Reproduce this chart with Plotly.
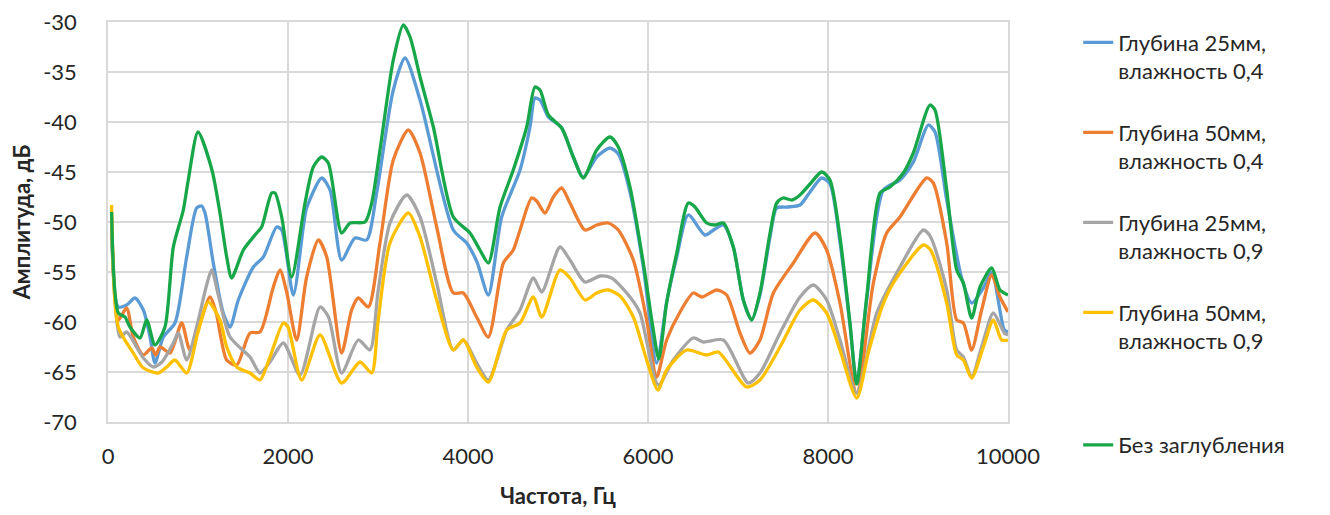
import plotly.graph_objects as go

# ---------------- data ----------------
names = [
    "Глубина 25мм,<br>влажность 0,4",
    "Глубина 50мм,<br>влажность 0,4",
    "Глубина 25мм,<br>влажность 0,9",
    "Глубина 50мм,<br>влажность 0,9",
    "Без заглубления",
]
colors = ["#5B9BD5", "#ED7D31", "#A5A5A5", "#FFC000", "#18A748"]

blue_f = [40, 115, 207, 300, 393, 467, 522, 615, 744, 874, 985, 1040, 1078, 1170, 1281, 1356, 1448,
          1615, 1726, 1874, 1930, 2059, 2170, 2207, 2374, 2467, 2596, 2744, 2874, 2985, 3170, 3300,
          3467, 3837, 3985, 4100, 4226, 4374, 4578, 4689, 4744, 4800, 4893, 5041, 5170, 5281, 5430,
          5578, 5670, 5800, 5948, 6096, 6207, 6319, 6448, 6633, 6744, 6837, 6948, 7059, 7152, 7244,
          7356, 7430, 7550, 7689, 7800, 7930, 8022, 8133, 8244, 8319, 8430, 8615, 8800, 8948, 9115,
          9189, 9319, 9485, 9596, 9726, 9820, 9959, 10000]
blue_v = [-50.8, -58.5, -58.3, -57.6, -58.8, -61.5, -64.1, -61.5, -60.1, -53.5, -48.6, -48.4, -49.1,
          -54.1, -59.1, -60.5, -57.8, -54.5, -53.5, -50.5, -50.8, -57.3, -50.5, -48.6, -45.6, -46.8,
          -53.8, -51.6, -51.8, -47.1, -36.8, -33.6, -37.8, -50.8, -52.1, -54.0, -57.3, -49.5, -44.8,
          -40.5, -37.6, -37.8, -39.5, -40.6, -43.5, -45.5, -43.5, -42.6, -43.2, -47.0, -54.5, -64.1,
          -58.0, -53.5, -49.3, -51.3, -50.7, -50.3, -52.5, -57.8, -59.8, -57.3, -51.5, -48.6, -48.5,
          -48.3, -47.0, -45.6, -46.2, -52.0, -60.3, -66.1, -57.8, -46.8, -45.8, -44.0, -40.3, -41.0,
          -47.8, -55.6, -58.1, -56.6, -55.0, -60.8, -61.0]

orange_f = [40, 115, 207, 281, 393, 485, 530, 578, 689, 819, 911, 1133, 1200, 1319, 1430, 1578, 1689,
            1837, 1911, 1985, 2096, 2207, 2337, 2430, 2596, 2707, 2781, 2893, 3022, 3170, 3337, 3467,
            3652, 3837, 3948, 4096, 4226, 4393, 4503, 4578, 4707, 4763, 4856, 4948, 5041, 5133, 5300,
            5430, 5559, 5670, 5837, 5985, 6096, 6207, 6356, 6503, 6596, 6763, 6874, 7022, 7133, 7244,
            7393, 7615, 7856, 7985, 8133, 8319, 8504, 8652, 8800, 9096, 9170, 9319, 9430, 9504, 9596,
            9707, 9819, 9911, 10000]
orange_v = [-49.5, -59.8, -58.6, -61.5, -63.3, -62.6, -63.3, -62.5, -63.1, -60.1, -62.8, -57.5, -59.0,
            -63.8, -64.3, -61.1, -61.0, -56.5, -54.8, -57.0, -61.8, -55.5, -51.8, -53.5, -63.1, -58.8,
            -57.6, -58.5, -52.1, -43.8, -40.8, -43.1, -50.5, -57.1, -57.1, -59.5, -61.5, -54.1, -52.8,
            -50.8, -47.6, -47.9, -49.1, -47.5, -46.6, -48.1, -50.8, -50.3, -50.1, -50.8, -53.8, -59.8,
            -65.5, -61.8, -59.0, -57.1, -57.5, -56.8, -57.3, -61.1, -63.1, -61.8, -57.1, -54.1, -51.1,
            -52.8, -58.1, -67.1, -56.1, -51.1, -49.5, -45.6, -46.1, -52.1, -59.8, -60.1, -62.8, -58.8,
            -55.3, -57.5, -59.0]

gray_f = [40, 133, 207, 318, 393, 504, 600, 726, 781, 874, 985, 1096, 1152, 1226, 1356, 1578, 1689,
          1800, 1948, 2133, 2356, 2450, 2596, 2781, 2911, 3000, 3133, 3319, 3467, 3652, 3837, 3948,
          4096, 4226, 4430, 4578, 4726, 4819, 5022, 5133, 5300, 5467, 5596, 5800, 5911, 6115, 6281,
          6503, 6615, 6837, 7115, 7244, 7467, 7689, 7837, 7985, 8133, 8319, 8541, 8800, 9059, 9140,
          9319, 9430, 9504, 9596, 9707, 9837, 9959, 10000]
gray_v = [-51.0, -61.5, -61.0, -62.5, -63.6, -64.5, -64.0, -62.1, -61.1, -63.8, -60.5, -56.3, -54.8,
          -57.3, -61.5, -63.5, -65.1, -64.0, -62.1, -65.3, -58.5, -59.5, -65.1, -61.8, -62.8, -57.0,
          -50.1, -47.3, -49.5, -56.1, -62.8, -61.8, -64.1, -65.8, -60.8, -58.8, -55.6, -57.0, -52.5,
          -53.8, -56.0, -55.4, -55.6, -57.5, -59.1, -66.3, -63.8, -61.6, -62.0, -61.8, -66.1, -65.1,
          -61.1, -57.5, -56.3, -57.8, -61.8, -67.1, -59.1, -54.5, -50.8, -51.5, -56.8, -62.8, -63.5,
          -65.5, -62.5, -59.1, -61.1, -61.3]

yellow_f = [40, 115, 281, 393, 559, 652, 744, 874, 1000, 1115, 1244, 1319, 1430, 1578, 1689, 1800,
            1948, 2000, 2152, 2356, 2596, 2800, 2930, 3000, 3133, 3337, 3467, 3652, 3837, 3948, 4096,
            4226, 4430, 4578, 4726, 4819, 5022, 5133, 5300, 5430, 5559, 5689, 5837, 5985, 6110, 6207,
            6430, 6652, 6781, 7096, 7244, 7467, 7689, 7837, 7985, 8133, 8319, 8450, 8600, 8726, 9059,
            9140, 9319, 9430, 9504, 9596, 9726, 9837, 9930, 10000]
yellow_v = [-48.3, -60.5, -63.1, -64.6, -65.1, -64.5, -63.8, -65.1, -61.0, -58.0, -59.8, -62.5, -64.5,
            -65.1, -65.8, -63.5, -60.1, -60.5, -65.8, -61.3, -66.1, -64.0, -65.1, -60.0, -52.1, -49.1,
            -51.5, -57.8, -62.8, -61.8, -64.5, -66.0, -60.8, -60.1, -57.5, -59.5, -54.8, -55.6, -57.8,
            -57.1, -56.8, -57.4, -59.5, -63.8, -66.8, -64.8, -62.8, -63.3, -63.0, -66.5, -65.8, -62.5,
            -58.8, -57.8, -59.1, -62.8, -67.6, -63.0, -58.5, -56.1, -52.3, -52.8, -58.1, -63.3, -63.8,
            -65.6, -62.5, -59.8, -61.8, -61.8]

green_f = [40, 115, 189, 244, 356, 430, 522, 633, 726, 837, 892, 1000, 1155, 1244, 1319, 1374, 1504,
           1652, 1707, 1819, 1856, 1930, 2041, 2189, 2281, 2374, 2448, 2596, 2689, 2856, 2930, 3022,
           3170, 3281, 3356, 3467, 3615, 3837, 4022, 4133, 4226, 4356, 4503, 4652, 4744, 4800, 4893,
           5041, 5170, 5281, 5430, 5578, 5670, 5800, 5948, 6059, 6120, 6207, 6319, 6448, 6522, 6652,
           6744, 6837, 6948, 7059, 7152, 7244, 7356, 7430, 7500, 7600, 7689, 7800, 7930, 8022, 8133,
           8244, 8319, 8430, 8578, 8689, 8837, 8948, 9133, 9189, 9319, 9430, 9504, 9596, 9689, 9819,
           9911, 10000]
green_v = [-49.0, -59.1, -59.5, -60.5, -61.6, -59.8, -62.3, -60.5, -52.5, -48.8, -45.8, -41.0, -44.8,
           -49.1, -53.5, -55.6, -52.8, -51.1, -50.5, -47.1, -47.1, -49.5, -55.5, -48.1, -44.5, -43.5,
           -44.1, -51.1, -50.1, -50.0, -48.1, -42.8, -33.8, -30.3, -31.5, -35.5, -40.5, -49.5, -51.1,
           -52.8, -54.1, -48.5, -44.8, -40.5, -36.5, -36.8, -39.3, -40.6, -43.5, -45.6, -42.8, -41.5,
           -42.5, -46.5, -54.1, -60.8, -63.7, -58.1, -53.1, -48.1, -48.5, -50.1, -50.3, -50.1, -52.5,
           -57.8, -59.8, -57.1, -51.1, -48.1, -47.6, -47.8, -47.3, -46.2, -45.0, -45.8, -51.5, -60.1,
           -66.2, -57.5, -47.1, -46.5, -45.1, -43.1, -38.3, -38.8, -46.8, -54.8, -56.1, -59.6, -56.5,
           -54.6, -56.8, -57.3]

x_tickvals = [0, 2000, 4000, 6000, 8000, 10000]
x_ticktext = ["0", "2000", "4000", "6000", "8000", "10000"]
y_tickvals = [-70, -65, -60, -55, -50, -45, -40, -35, -30]
y_ticktext = ["-70", "-65", "-60", "-55", "-50", "-45", "-40", "-35", "-30"]

x_title = "Частота, Гц"
y_title = "Амплитуда, дБ"

# legend vertical centres (paper coordinates)
legend_y = [0.9125, 0.6875, 0.4625, 0.2375, -0.0575]

series = [(blue_f, blue_v), (orange_f, orange_v), (gray_f, gray_v), (yellow_f, yellow_v), (green_f, green_v)]

FONT = "Lato, 'Noto Sans', sans-serif"
TXT = "#262626"
fig = go.Figure()
for i, ((fx, fy), nm, col) in enumerate(zip(series, names, colors)):
    fig.add_trace(go.Scatter(
        x=fx, y=fy, name=nm, mode="lines",
        line=dict(color=col, width=3.3, shape="spline", smoothing=0.7),
        legend="legend" if i == 0 else f"legend{i+1}",
    ))

grid = "#d9d9d9"
layout_legends = {}
for i, ly in enumerate(legend_y):
    key = "legend" if i == 0 else f"legend{i+1}"
    layout_legends[key] = dict(
        x=1.078, y=ly, xanchor="left", yanchor="middle", valign="top",
        font=dict(family=FONT, size=22, color=TXT),
        bgcolor="rgba(0,0,0,0)", borderwidth=0, itemwidth=30,
    )

# page body has an 8 px margin, so the figure is offset by 8 px
fig.update_layout(
    width=1322, height=507,
    margin=dict(l=100, r=322, t=14, b=93, autoexpand=False),
    paper_bgcolor="white", plot_bgcolor="white",
    font=dict(family=FONT, size=22, color=TXT),
    showlegend=True,
    **layout_legends,
)
fig.update_xaxes(
    range=[0, 10000], tickvals=x_tickvals, ticktext=x_ticktext,
    showgrid=True, gridcolor=grid, gridwidth=1.5, zeroline=False,
    showline=True, linecolor=grid, linewidth=1.5, mirror=True,
    ticks="", ticklabelstandoff=14, automargin=False, ticklabeloverflow="allow",
    tickfont=dict(family=FONT, size=22, color=TXT),
    title=dict(text=x_title, font=dict(family=FONT, size=22, color=TXT, weight="bold"), standoff=20),
)
fig.update_yaxes(
    range=[-70, -30], tickvals=y_tickvals, ticktext=y_ticktext,
    showgrid=True, gridcolor=grid, gridwidth=1.5, zeroline=False,
    showline=True, linecolor=grid, linewidth=1.5, mirror=True,
    ticks="", ticklabelstandoff=25, automargin=False, ticklabeloverflow="allow",
    tickfont=dict(family=FONT, size=22, color=TXT),
    title=dict(text=y_title, font=dict(family=FONT, size=22, color=TXT, weight="bold"), standoff=6),
)

fig.write_html("out.html")
